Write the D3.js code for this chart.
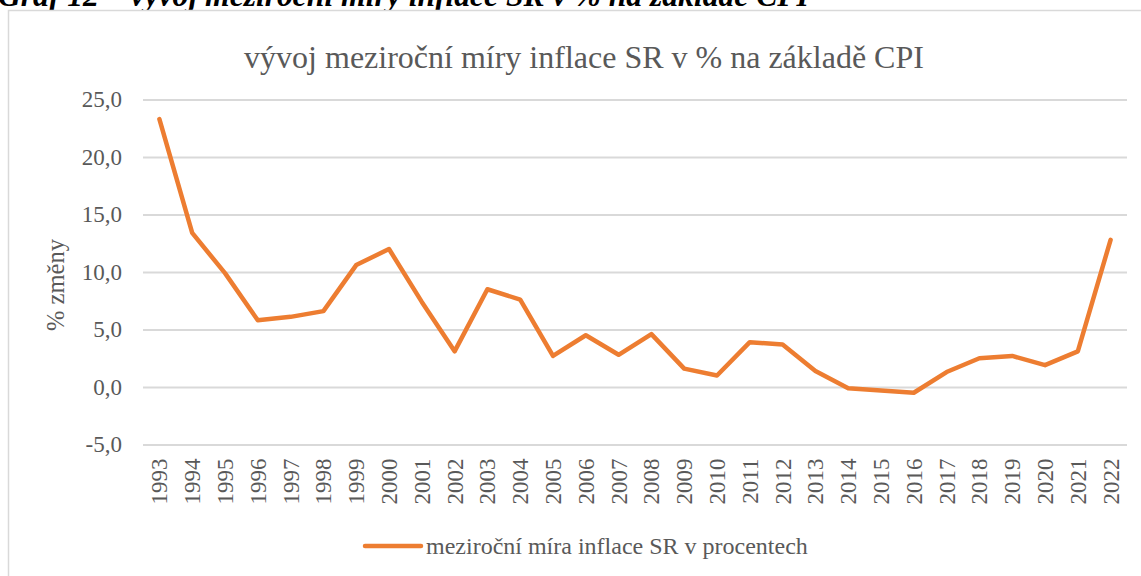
<!DOCTYPE html>
<html>
<head>
<meta charset="utf-8">
<script src="https://cdn.jsdelivr.net/npm/d3@7"></script>
<style>
  html, body { margin: 0; padding: 0; background: #fff; }
  svg { display: block; font-family: "Liberation Serif", "Times New Roman", serif; }
</style>
</head>
<body>
<svg id="chart" width="1141" height="576"></svg>
<script>
// data
const years = ["1993","1994","1995","1996","1997","1998","1999","2000","2001","2002",
               "2003","2004","2005","2006","2007","2008","2009","2010","2011","2012",
               "2013","2014","2015","2016","2017","2018","2019","2020","2021","2022"];
const inflation = [23.3, 13.4, 9.9, 5.8, 6.1, 6.6, 10.6, 12.0, 7.4, 3.1,
                   8.5, 7.6, 2.7, 4.5, 2.8, 4.6, 1.6, 1.0, 3.9, 3.7,
                   1.4, -0.1, -0.3, -0.5, 1.3, 2.5, 2.7, 1.9, 3.1, 12.8];
const yTicks = [-5, 0, 5, 10, 15, 20, 25];

const captionText = "Graf 12 – vývoj meziroční míry inflace SR v % na základě CPI";
const titleText = "vývoj meziroční míry inflace SR v % na základě CPI";
const yLabel = "% změny";
const seriesName = "meziroční míra inflace SR v procentech";

const svg = d3.select("#chart");
const serif = "'Liberation Serif', 'Times New Roman', serif";
const textColor = "#595959",
      lineColor = "#ED7D31",
      gridColor = "#D9D9D9";

// plot area
const plotLeft = 143, plotRight = 1127, plotTop = 99.5, plotBottom = 444.5;

let x = d3.scaleBand().domain(years).range([plotLeft, plotRight]);
let y = d3.scaleLinear().domain([-5, 25]).range([plotBottom, plotTop]);

// caption above the chart box (cut off at the top edge, as in the source)
svg.append("text")
    .attr("x", -2)
    .attr("y", 6)
    .attr("font-size", 31.6)
    .attr("font-style", "italic")
    .attr("font-weight", "bold")
    .attr("fill", "#000")
    .text(captionText);

// chart box
svg.append("rect")
    .attr("x", 8.5)
    .attr("y", 10.5)
    .attr("width", 1200)
    .attr("height", 700)
    .attr("fill", "#fff")
    .attr("stroke", gridColor)
    .attr("stroke-width", 1.5);

svg.append("text")
    .attr("x", 584)
    .attr("y", 68)
    .attr("text-anchor", "middle")
    .attr("font-size", 32)
    .attr("fill", textColor)
    .text(titleText);

// y axis: gridlines + labels
let yAxis = d3.axisLeft(y)
    .tickValues(yTicks)
    .tickSize(-(plotRight - plotLeft))
    .tickPadding(21)
    .tickFormat(d => d3.format(".1f")(d).replace(".", ",").replace("\u2212", "-"));

let gy = svg.append("g")
    .attr("transform", "translate(" + plotLeft + ",0)")
    .call(yAxis)
    .attr("font-family", serif);
gy.select(".domain").remove();
gy.selectAll(".tick line")
    .attr("stroke", gridColor)
    .attr("stroke-width", 2);
gy.selectAll(".tick text")
    .attr("fill", textColor)
    .attr("font-size", 23);

svg.append("text")
    .attr("transform", "translate(64,285) rotate(-90)")
    .attr("text-anchor", "middle")
    .attr("font-size", 24.5)
    .attr("fill", textColor)
    .text(yLabel);

// x axis labels (rotated)
let xAxis = d3.axisBottom(x).tickSize(0).tickPadding(0);
let gx = svg.append("g")
    .attr("transform", "translate(0," + plotBottom + ")")
    .call(xAxis)
    .attr("font-family", serif);
gx.select(".domain").remove();
gx.selectAll(".tick text")
    .attr("fill", textColor)
    .attr("font-size", 23)
    .attr("text-anchor", "end")
    .attr("transform", "rotate(-90)")
    .attr("x", -14)
    .attr("y", 0)
    .attr("dy", "0.35em");

// the series line
let line = d3.line()
    .x((d, i) => x(years[i]) + x.bandwidth() / 2)
    .y(d => y(d));

svg.append("path")
    .datum(inflation)
    .attr("d", line)
    .attr("fill", "none")
    .attr("stroke", lineColor)
    .attr("stroke-width", 4.5)
    .attr("stroke-linejoin", "round")
    .attr("stroke-linecap", "round");

// legend
let lg = svg.append("g").attr("transform", "translate(365,546)");
lg.append("line")
    .attr("x1", 0).attr("x2", 56)
    .attr("stroke", lineColor)
    .attr("stroke-width", 4.5)
    .attr("stroke-linecap", "round");
lg.append("text")
    .attr("x", 61)
    .attr("dy", "0.35em")
    .attr("font-size", 24)
    .attr("fill", textColor)
    .text(seriesName);
</script>
</body>
</html>
